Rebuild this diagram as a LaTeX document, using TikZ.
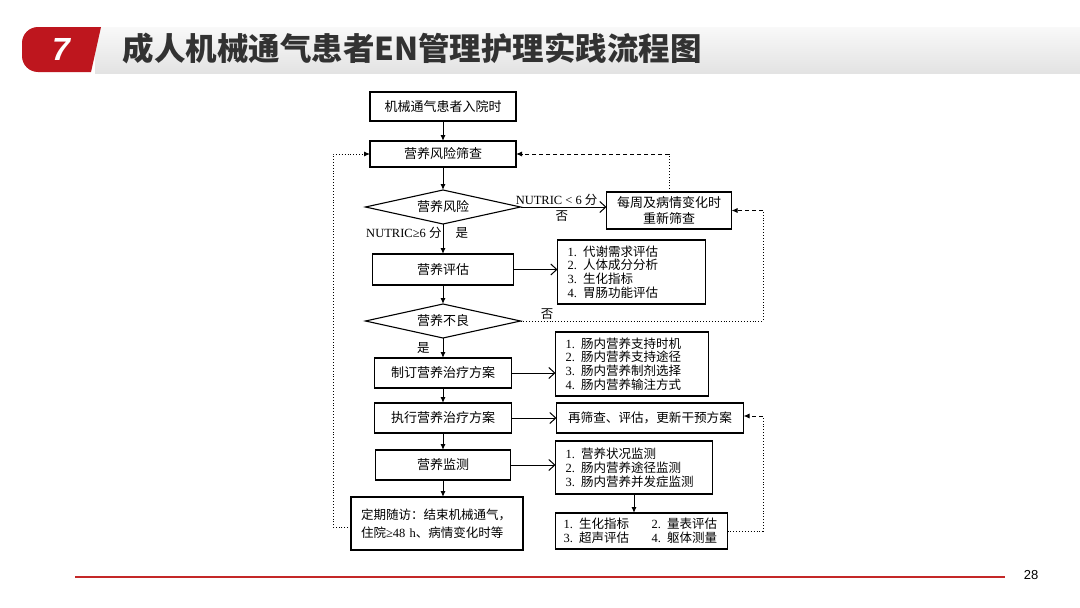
\documentclass[tikz,border=0pt]{standalone}
\usepackage{fontspec}
\setmainfont{Liberation Serif}
\newfontfamily\zhfont{Noto Sans CJK SC}
\newfontfamily\numfont{Liberation Sans}
\usetikzlibrary{shapes.geometric, arrows.meta, positioning}
\usepackage{xcolor}
\definecolor{tabred}{RGB}{190,22,30}
\definecolor{linered}{RGB}{196,40,40}
\definecolor{titlegray}{RGB}{50,50,50}
\newcommand{\zh}[1]{{\zhfont #1}}
\tikzstyle{stepbox}  = [rectangle, draw=black, line width=1.1pt, inner sep=0pt, outer sep=0pt,
                        text centered, align=center, font=\zhfont\fontsize{13}{15.5}\selectfont]
\tikzstyle{decision} = [diamond, aspect=4.5, draw=black, line width=1.1pt, inner sep=0pt, outer sep=0pt,
                        text centered, font=\zhfont\fontsize{13}{15.5}\selectfont]
\tikzstyle{listbox}  = [rectangle, draw=black, line width=1.1pt, inner xsep=10pt, inner ysep=0pt, outer sep=0pt,
                        align=left, font=\fontsize{12.5}{13.8}\selectfont]
\tikzstyle{lbl}      = [inner sep=1pt, font=\fontsize{12.5}{14}\selectfont]
\tikzstyle{arrow}    = [line width=1pt, -{Latex[length=6pt,width=5pt]}]
\tikzstyle{openarrow}= [line width=1pt, -{Straight Barb[length=6pt,width=11pt]}]
\tikzstyle{dotline}  = [line width=0.9pt, dotted]
\tikzstyle{dashline} = [line width=1pt, dash pattern=on 4pt off 3pt]

\begin{document}
\begin{tikzpicture}[x=1pt, y=-1pt]
  \useasboundingbox (0,0) rectangle (1080,608);
  \fill[white] (0,0) rectangle (1080,608);

  % header
  \shade[top color=gray!5, bottom color=gray!22] (95,27) rectangle (1080,73);
  \fill[tabred] (101,27) -- (60,27) [rounded corners=16pt]-- (22,27) -- (22,72) -- (60,72)
        [sharp corners]-- (91,72) -- cycle;
  \node (tabnum) at (61,49) [text=white, font=\numfont\bfseries\itshape\fontsize{32}{34}\selectfont] {7};
  \node (title) at (119,48) [anchor=west, text=titlegray,
        font=\zhfont\bfseries\fontsize{31.5}{33}\selectfont] {成人机械通气患者EN管理护理实践流程图};

  % main column
  \node (admit)    at (443,106.5) [stepbox, minimum width=146pt, minimum height=29pt] {机械通气患者入院时};
  \node (screen)   [stepbox, below=20pt of admit, minimum width=146pt, minimum height=26pt] {营养风险筛查};
  \node (risk)     [decision, below=23pt of screen, minimum width=155pt, minimum height=34pt] {营养风险};
  \node (assess)   [stepbox, below=30pt of risk, minimum width=141pt, minimum height=31pt] {营养评估};
  \node (malnut)   [decision, below=19pt of assess, minimum width=155pt, minimum height=34pt] {营养不良};
  \node (plan)     [stepbox, below=20pt of malnut, minimum width=137pt, minimum height=30pt] {制订营养治疗方案};
  \node (exec)     [stepbox, below=15pt of plan, minimum width=137pt, minimum height=30pt] {执行营养治疗方案};
  \node (monitor)  [stepbox, below=17pt of exec, minimum width=135pt, minimum height=30pt] {营养监测};
  \node (followup) [listbox, below=17pt of monitor, xshift=-6pt, text width=152pt, minimum height=53pt,
                    font=\fontsize{12.5}{18}\selectfont]
        {\zh{定期随访：结束机械通气，}\\\zh{住院}≥48 h\zh{、病情变化时等}};

  % side boxes
  \node (weekly) [stepbox, right=86pt of risk, yshift=-3.5pt, minimum width=125pt, minimum height=37pt]
        {每周及病情变化时\\重新筛查};
  \node (list1) [listbox, right=44pt of assess, yshift=-2.5pt, text width=128pt, minimum height=64pt]
        {1. \zh{代谢需求评估}\\2. \zh{人体成分分析}\\3. \zh{生化指标}\\4. \zh{胃肠功能评估}};
  \node (list2) [listbox, right=44pt of plan, yshift=9pt, text width=133pt, minimum height=64pt]
        {1. \zh{肠内营养支持时机}\\2. \zh{肠内营养支持途径}\\3. \zh{肠内营养制剂选择}\\4. \zh{肠内营养输注方式}};
  \node (redo)  [stepbox, right=45pt of exec, minimum width=187pt, minimum height=30pt,
                 font=\zhfont\fontsize{12.6}{15}\selectfont]
        {再筛查、评估，更新干预方案};
  \node (list3) [listbox, right=45pt of monitor, yshift=-2.5pt, text width=137pt, minimum height=53pt]
        {1. \zh{营养状况监测}\\2. \zh{肠内营养途径监测}\\3. \zh{肠内营养并发症监测}};
  \node (list4) [listbox, below=19pt of list3.south west, anchor=north west, inner xsep=8pt,
                 text width=156pt, minimum height=36pt]
        {\mbox{\makebox[88pt][l]{1. \zh{生化指标}}2. \zh{量表评估}}\\
         \mbox{\makebox[88pt][l]{3. \zh{超声评估}}4. \zh{躯体测量}}};

  \coordinate (rbus) at (763,0);
  \coordinate (lbus) at (333,0);

  % main flow
  \draw[arrow] (admit)   -- (screen);
  \draw[arrow] (screen)  -- (risk);
  \draw[arrow] (risk)    -- node[lbl, left, pos=0.3] (yes1lbl) {NUTRIC≥6 \zh{分}}
                            node[lbl, right, pos=0.3, xshift=11pt] (yes1) {\zh{是}} (assess);
  \draw[arrow] (assess)  -- (malnut);
  \draw[arrow] (malnut)  -- node[lbl, left=12pt] (yes2) {\zh{是}} (plan);
  \draw[arrow] (plan)    -- (exec);
  \draw[arrow] (exec)    -- (monitor);
  \draw[arrow] (monitor.south) -- (monitor.south |- followup.north);

  % to side boxes
  \draw[openarrow] (risk.east) -- node[lbl, above, pos=0.42] (nolbl) {NUTRIC < 6 \zh{分}}
                                  node[lbl, below=2pt, pos=0.48] (no1) {\zh{否}} (risk.east -| weekly.west);
  \draw[openarrow] (assess.east)  -- (assess.east -| list1.west);
  \draw[openarrow] (plan.east)    -- (plan.east -| list2.west);
  \draw[openarrow] (exec.east)    -- (exec.east -| redo.west);
  \draw[openarrow] (monitor.east) -- (monitor.east -| list3.west);
  \draw[arrow] (list3.south) -- (list3.south |- list4.north);

  % feedback loops
  \draw[dotline] (weekly.north) -- (weekly.north |- screen.east);
  \draw[dashline, -{Latex[length=6pt,width=5pt]}] (weekly.north |- screen.east) -- (screen.east);
  \draw[dotline] (malnut.east) -- node[lbl, above, pos=0.11] (no2) {\zh{否}}
                 (malnut.east -| rbus) -- (weekly.east -| rbus);
  \draw[dashline, -{Latex[length=6pt,width=5pt]}] (weekly.east -| rbus) -- (weekly.east);
  \draw[dotline] (list4.east) -- (list4.east -| rbus) -- ([yshift=2pt]redo.east -| rbus);
  \draw[dashline, -{Latex[length=6pt,width=5pt]}] ([yshift=2pt]redo.east -| rbus) -- ([yshift=2pt]redo.east);
  \draw[dotline, -{Latex[length=6pt,width=5pt]}] ([yshift=-4pt]followup.west) -- ([yshift=-4pt]followup.west -| lbus)
                 -- (screen.west -| lbus) -- (screen.west);

  % footer
  \draw[linered, line width=1.2pt] (75,577) -- (1005,577);
  \node (pagenum) at (1031,575) [font=\numfont\fontsize{13}{15}\selectfont] {28};
\end{tikzpicture}
\end{document}
